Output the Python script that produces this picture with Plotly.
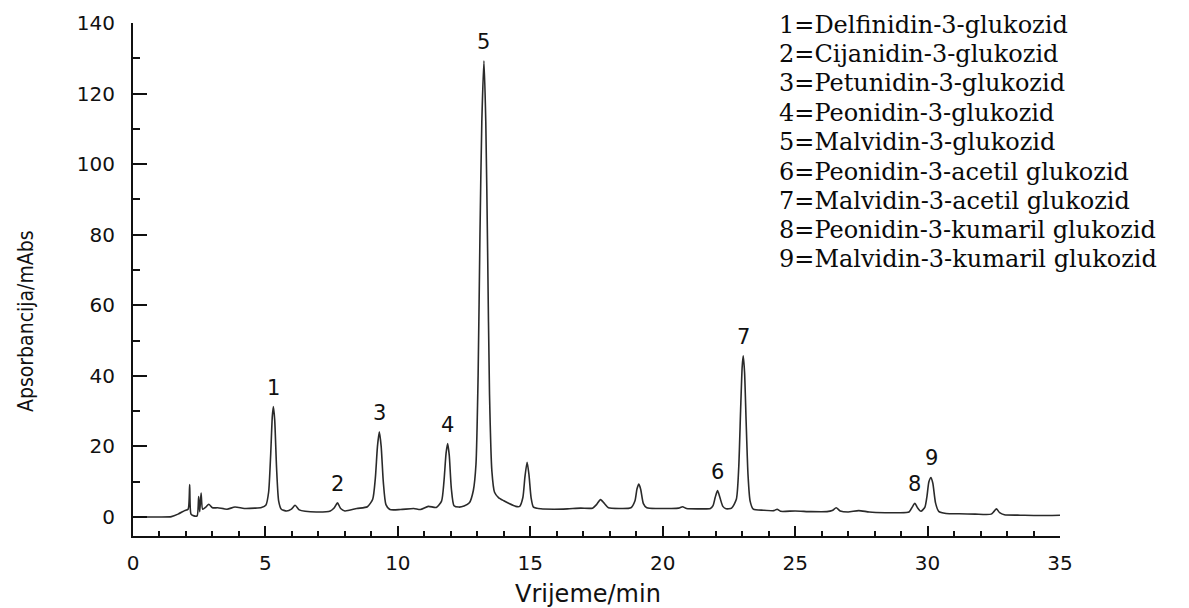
import plotly.graph_objects as go

# Chromatogram trace (retention time in min, absorbance in mAbs)
vrijeme_min = [
    0.0, 1.0, 1.45, 1.7, 1.95, 2.08, 2.14, 2.19, 2.3, 2.42, 2.48, 2.52, 2.57, 2.63,
    2.75, 2.86, 3.0, 3.2, 3.55, 3.85, 4.2, 4.6, 4.85, 5.02,
    5.12, 5.2, 5.26, 5.3, 5.35, 5.42, 5.5, 5.6, 5.8,
    5.98, 6.12, 6.28, 6.5, 7.0, 7.45,
    7.6, 7.72, 7.84, 8.0, 8.45, 8.85, 9.05,
    9.15, 9.23, 9.3, 9.37, 9.45, 9.55, 9.7, 10.1, 10.6, 10.85, 11.15, 11.45, 11.65,
    11.74, 11.82, 11.88, 11.94, 12.02, 12.12, 12.3, 12.5, 12.7,
    12.85, 12.95, 13.03, 13.1, 13.17, 13.25, 13.32, 13.39, 13.46, 13.55, 13.65,
    13.8, 14.0, 14.2, 14.45,
    14.6, 14.72, 14.8, 14.88, 14.95, 15.03, 15.12, 15.4, 15.9, 16.4, 16.9, 17.35,
    17.5, 17.65, 17.8, 17.95, 18.4, 18.8,
    18.95, 19.03, 19.1, 19.17, 19.27, 19.4, 19.8, 20.3, 20.6, 20.75, 20.9, 21.4, 21.8,
    21.9, 21.98, 22.07, 22.16, 22.27, 22.4, 22.6,
    22.78, 22.87, 22.94, 23.0, 23.04, 23.09, 23.15, 23.22, 23.3, 23.42, 23.8, 24.2,
    24.32, 24.45, 25.0, 25.6, 26.2,
    26.4, 26.55, 26.7, 27.0, 27.4, 27.8, 28.4, 28.9, 29.3,
    29.42, 29.52, 29.62, 29.75, 29.9,
    29.98, 30.05, 30.13, 30.2, 30.3, 30.42, 30.7, 31.2, 31.8, 32.4,
    32.5, 32.6, 32.72, 32.9, 33.5, 34.2, 35.0,
]
apsorbancija_mAbs = [
    0.0, 0.0, 0.1, 0.8, 1.8, 2.2, 9.2, 0.8, 0.3, 0.3, 5.8, 1.5, 6.8, 2.2,
    2.8, 3.6, 2.6, 2.6, 2.2, 2.8, 2.4, 2.5, 2.7, 3.4,
    7.0, 18.0, 28.5, 31.3, 27.5, 14.0, 4.5, 2.2, 1.7,
    2.2, 3.3, 2.0, 1.6, 1.4, 1.7,
    2.6, 4.0, 2.4, 1.7, 2.4, 2.9, 5.0,
    11.0, 20.0, 24.1, 20.0, 10.0, 3.5, 2.1, 2.1, 2.4, 2.1, 3.0, 2.7, 4.5,
    10.0, 18.0, 20.8, 17.5, 8.0, 3.2, 2.8, 3.1, 4.0,
    7.5, 15.0, 40.0, 80.0, 112.0, 129.3, 112.0, 75.0, 35.0, 13.0, 7.0,
    5.5, 4.6, 3.8, 3.0,
    3.0, 5.5, 11.5, 15.5, 12.0, 5.5, 2.8, 2.3, 2.2, 2.3, 2.5, 2.5,
    3.5, 4.9, 3.8, 2.6, 2.4, 2.6,
    4.5, 8.0, 9.3, 7.8, 3.8, 2.6, 2.4, 2.4, 2.5, 2.9, 2.4, 2.3, 2.4,
    3.2, 5.5, 7.45, 5.5, 3.0, 2.3, 2.5,
    5.0, 14.0, 30.0, 42.5, 45.7, 41.0, 27.0, 12.0, 4.5, 2.2, 1.9, 1.8,
    2.2, 1.6, 1.7, 1.5, 1.5,
    1.8, 2.6, 1.7, 1.4, 1.8, 1.4, 1.2, 1.2, 1.4,
    2.8, 3.9, 2.6, 1.6, 2.8,
    6.0, 10.0, 11.2, 9.5, 4.0, 1.6, 1.0, 0.9, 0.8, 0.8,
    1.5, 2.3, 1.2, 0.6, 0.5, 0.4, 0.5,
]

# Identified peaks
pik_oznake = ["1", "2", "3", "4", "5", "6", "7", "8", "9"]
pik_vrijeme = [5.3, 7.72, 9.3, 11.88, 13.25, 22.07, 23.04, 29.52, 30.13]
pik_visina = [31.3, 4.0, 24.1, 20.8, 129.3, 7.45, 45.7, 3.9, 11.2]

sastojci = [
    "1=Delfinidin-3-glukozid",
    "2=Cijanidin-3-glukozid",
    "3=Petunidin-3-glukozid",
    "4=Peonidin-3-glukozid",
    "5=Malvidin-3-glukozid",
    "6=Peonidin-3-acetil glukozid",
    "7=Malvidin-3-acetil glukozid",
    "8=Peonidin-3-kumaril glukozid",
    "9=Malvidin-3-kumaril glukozid",
]

x_ticks = [0, 5, 10, 15, 20, 25, 30, 35]
y_ticks = [0, 20, 40, 60, 80, 100, 120, 140]

INK = "#111111"
SANS = "DejaVu Sans, Arial, sans-serif"
SERIF = "DejaVu Serif, Liberation Serif, serif"

fig = go.Figure()
fig.add_trace(go.Scatter(
    x=vrijeme_min, y=apsorbancija_mAbs, mode="lines",
    line=dict(color="#2a2a2a", width=1.6, shape="spline", smoothing=0.6),
    hoverinfo="x+y", showlegend=False,
))

annotations = []
for lab, t, h in zip(pik_oznake, pik_vrijeme, pik_visina):
    annotations.append(dict(
        x=t, y=h, xref="x", yref="y", text=lab, showarrow=False,
        yanchor="middle", yshift=19, font=dict(family=SANS, size=21, color=INK),
    ))

# Compound key, top right
W, H, L, R, T, B = 1189, 608, 133, 129, 23, 72
pw, ph = W - L - R, H - T - B
line_y = [25, 54, 83, 113, 142, 172, 201, 230, 259]
for txt, yp in zip(sastojci, line_y):
    annotations.append(dict(
        x=(777 - L) / pw, y=(H - B - yp) / ph, xref="paper", yref="paper",
        text=txt, showarrow=False, xanchor="left", yanchor="middle",
        font=dict(family=SERIF, size=24, color="#0a0a0a"),
    ))

# Axis titles
annotations.append(dict(
    x=(588 - L) / pw, y=(H - B - 594) / ph, xref="paper", yref="paper",
    text="Vrijeme/min", showarrow=False, xanchor="center", yanchor="middle",
    font=dict(family=SANS, size=24, color=INK),
))
annotations.append(dict(
    x=(26 - L) / pw, y=(H - B - 321) / ph, xref="paper", yref="paper",
    text="Apsorbancija/mAbs", showarrow=False, textangle=-90,
    xanchor="center", yanchor="middle",
    font=dict(family="Liberation Sans Narrow, DejaVu Sans Condensed, Arial Narrow, sans-serif",
              size=21, color=INK),
))

axis_common = dict(
    showline=True, linecolor=INK, linewidth=2, showgrid=False, zeroline=False,
    ticks="inside", tickcolor=INK, tickwidth=2, mirror=False,
    tickfont=dict(family=SANS, size=20, color=INK),
)

fig.update_layout(
    width=W, height=H,
    margin=dict(l=L, r=R, t=T, b=B),
    paper_bgcolor="white", plot_bgcolor="white",
    xaxis=dict(
        range=[0, 35], tickvals=x_ticks, ticklen=10, ticklabelstandoff=8,
        minor=dict(dtick=1, ticklen=5, ticks="inside", tickcolor=INK, tickwidth=2),
        **axis_common,
    ),
    yaxis=dict(
        range=[-5.4, 140], tickvals=y_ticks, ticklen=14, ticklabelstandoff=12,
        minor=dict(dtick=10, ticklen=7, ticks="inside", tickcolor=INK, tickwidth=2),
        **axis_common,
    ),
    annotations=annotations,
    showlegend=False,
)

fig.write_html("out.html")
